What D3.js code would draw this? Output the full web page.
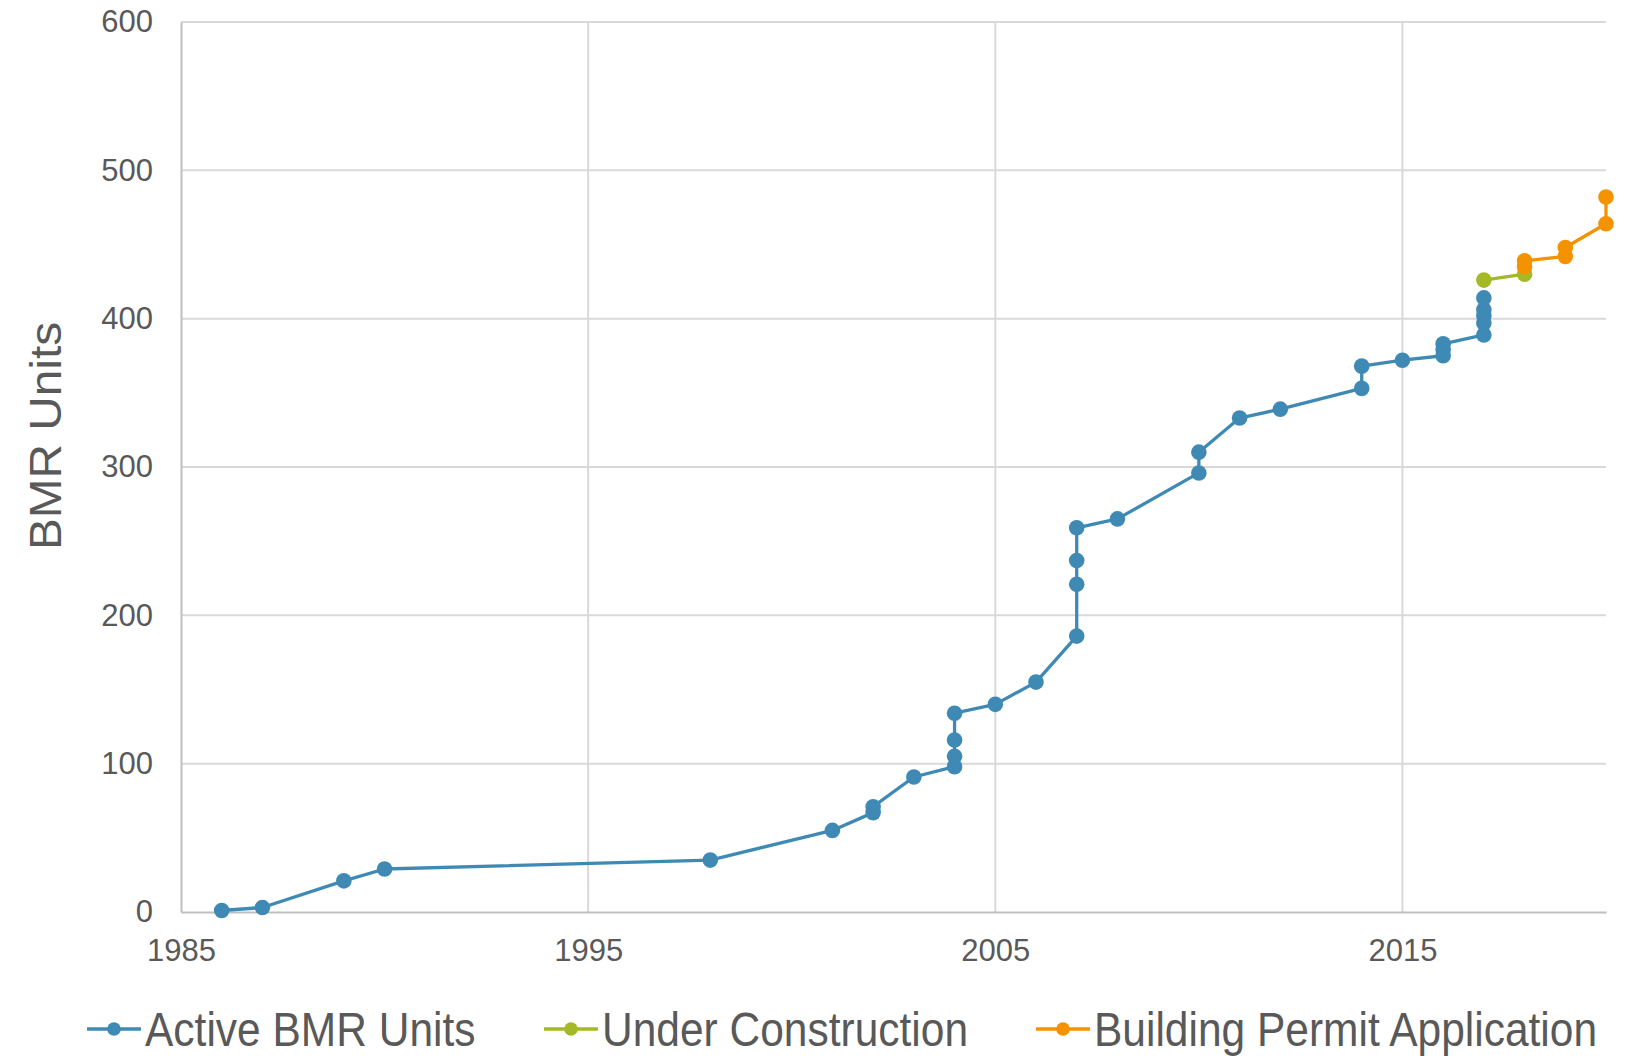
<!DOCTYPE html>
<html>
<head>
<meta charset="utf-8">
<script src="https://cdn.jsdelivr.net/npm/d3@7"></script>
<style>
  body { margin: 0; background: #fff; }
  text { font-family: "Liberation Sans", Arial, sans-serif; fill: #595959; }
</style>
</head>
<body>
<div id="chart"></div>
<script>
// Dữ liệu
const activeYears = [1986, 1987, 1989, 1990, 1998, 2001, 2002, 2002, 2003, 2004, 2004, 2004, 2004, 2005, 2006,
    2007, 2007, 2007, 2007, 2008, 2010, 2010, 2011, 2012, 2014, 2014, 2015, 2016, 2016, 2016,
    2017, 2017, 2017, 2017, 2017];
const activeUnits = [1, 3, 21, 29, 35, 55, 67, 71, 91, 98, 105, 116, 134, 140, 155,
    186, 221, 237, 259, 265, 296, 310, 333, 339, 353, 368, 372, 375, 379, 383,
    389, 397, 402, 406, 414];

const constructionYears = [2017, 2018];
const constructionUnits = [426, 430];

const permitYears = [2018, 2018, 2019, 2019, 2020, 2020];
const permitUnits = [435, 439, 442, 448, 464, 482];

const xTicks = [1985, 1995, 2005, 2015];
const yTicks = [0, 100, 200, 300, 400, 500, 600];

const seriesNames = ["Active BMR Units", "Under Construction", "Building Permit Application"];
const seriesColors = ["#3f8ab5", "#a5b827", "#f59200"];

const series = [
    { name: seriesNames[0], color: seriesColors[0], pts: activeYears.map((y, i) => [y, activeUnits[i]]) },
    { name: seriesNames[1], color: seriesColors[1], pts: constructionYears.map((y, i) => [y, constructionUnits[i]]) },
    { name: seriesNames[2], color: seriesColors[2], pts: permitYears.map((y, i) => [y, permitUnits[i]]) }
];

const width = 1632;
const height = 1057;
const margin = { top: 22, right: 26, bottom: 145, left: 181 };

const svg = d3.select("#chart")
    .append("svg")
    .attr("width", width)
    .attr("height", height);

const x = d3.scaleLinear()
    .domain([1985, 2020])
    .range([margin.left, width - margin.right]);

const y = d3.scaleLinear()
    .domain([0, 600])
    .range([height - margin.bottom, margin.top]);

// Lưới ngang
svg.append("g")
    .selectAll("line")
    .data(yTicks.filter(d => d > 0))
    .enter()
    .append("line")
    .attr("x1", margin.left)
    .attr("x2", width - margin.right)
    .attr("y1", d => y(d))
    .attr("y2", d => y(d))
    .attr("stroke", "#d9d9d9")
    .attr("stroke-width", 2);

// Lưới dọc
svg.append("g")
    .selectAll("line")
    .data(xTicks.filter(d => d > 1985))
    .enter()
    .append("line")
    .attr("x1", d => x(d))
    .attr("x2", d => x(d))
    .attr("y1", margin.top)
    .attr("y2", height - margin.bottom)
    .attr("stroke", "#d9d9d9")
    .attr("stroke-width", 2);

// Trục
const xAxis = svg.append("g")
    .attr("transform", `translate(0,${height - margin.bottom})`)
    .call(d3.axisBottom(x).tickValues(xTicks).tickSize(0).tickPadding(27).tickFormat(d3.format("d")));
xAxis.select(".domain").attr("stroke", "#bfbfbf").attr("stroke-width", 2);
xAxis.selectAll("text").attr("font-size", "31px").attr("fill", "#595959")
    .attr("font-family", "Liberation Sans, Arial, sans-serif");

const yAxis = svg.append("g")
    .attr("transform", `translate(${margin.left},0)`)
    .call(d3.axisLeft(y).tickValues(yTicks).tickSize(0).tickPadding(28));
yAxis.select(".domain").attr("stroke", "#bfbfbf").attr("stroke-width", 2);
yAxis.selectAll("text").attr("font-size", "31px").attr("fill", "#595959")
    .attr("font-family", "Liberation Sans, Arial, sans-serif");

// Tiêu đề trục Y
svg.append("text")
    .attr("transform", "translate(61,436) rotate(-90)")
    .attr("text-anchor", "middle")
    .attr("font-size", "45px")
    .attr("textLength", 228)
    .attr("lengthAdjust", "spacingAndGlyphs")
    .text("BMR Units");

// Đường và điểm
const line = d3.line().x(d => x(d[0])).y(d => y(d[1]));

series.forEach(s => {
    svg.append("path")
        .datum(s.pts)
        .attr("fill", "none")
        .attr("stroke", s.color)
        .attr("stroke-width", 3.3)
        .attr("stroke-linejoin", "round")
        .attr("d", line);

    svg.append("g")
        .selectAll("circle")
        .data(s.pts)
        .enter()
        .append("circle")
        .attr("cx", d => x(d[0]))
        .attr("cy", d => y(d[1]))
        .attr("r", 7.8)
        .attr("fill", s.color);
});

// Chú thích
const legendX = [87, 544, 1036];
const legendY = 1029;
const legend = svg.append("g");
series.forEach((s, i) => {
    const g = legend.append("g").attr("transform", `translate(${legendX[i]},${legendY})`);
    g.append("line")
        .attr("x1", 0).attr("x2", 54)
        .attr("y1", 0).attr("y2", 0)
        .attr("stroke", s.color)
        .attr("stroke-width", 3.3);
    g.append("circle")
        .attr("cx", 27).attr("cy", 0).attr("r", 6.8)
        .attr("fill", s.color);
    g.append("text")
        .attr("transform", "translate(58,17) scale(1,1.12)")
        .attr("font-size", "42.5px")
        .text(s.name);
});
</script>
</body>
</html>
